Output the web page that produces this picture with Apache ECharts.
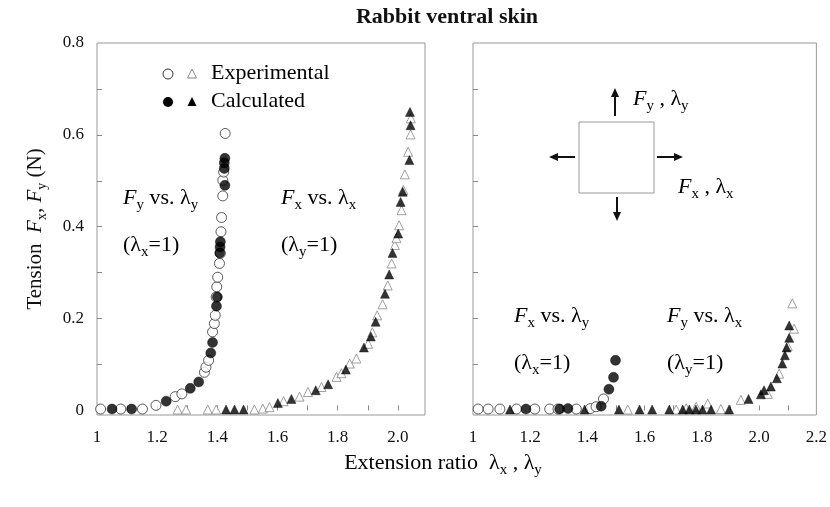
<!DOCTYPE html>
<html><head><meta charset="utf-8">
<script src="https://cdn.jsdelivr.net/npm/echarts@6/dist/echarts.min.js"></script>
<style>html,body{margin:0;padding:0;background:#fff}#c{width:830px;height:507px}</style>
</head><body><div id="c"></div>
<script>
// ---------- data (x = extension ratio, y = tension N) ----------
// Left panel: force along stretch direction
const leftExpCircles = [[1.012,0.003],[1.079,0.003],[1.151,0.003],[1.196,0.011],[1.26,0.03],[1.282,0.036],[1.357,0.083],[1.362,0.094],[1.371,0.109],[1.384,0.171],[1.39,0.189],[1.393,0.207],[1.396,0.247],[1.398,0.269],[1.401,0.29],[1.407,0.32],[1.41,0.342],[1.412,0.389],[1.414,0.42],[1.418,0.467],[1.418,0.501],[1.421,0.519],[1.426,0.603]];
const leftCalcCircles = [[1.05,0.003],[1.115,0.003],[1.23,0.02],[1.31,0.048],[1.338,0.062],[1.378,0.125],[1.384,0.148],[1.397,0.227],[1.40,0.247],[1.408,0.343],[1.409,0.356],[1.41,0.367],[1.425,0.49],[1.423,0.527],[1.423,0.539],[1.425,0.549]];
const leftExpTriangles = [[1.268,0.002],[1.296,0.002],[1.368,0.002],[1.396,0.002],[1.523,0.002],[1.551,0.004],[1.573,0.007],[1.62,0.02],[1.673,0.03],[1.701,0.04],[1.746,0.051],[1.796,0.073],[1.812,0.081],[1.84,0.102],[1.862,0.113],[1.901,0.145],[1.915,0.17],[1.931,0.207],[1.949,0.231],[1.966,0.272],[1.979,0.32],[1.99,0.36],[1.995,0.375],[2.004,0.403],[2.012,0.436],[2.018,0.48],[2.023,0.514],[2.034,0.563],[2.042,0.601],[2.043,0.636]];
const leftCalcTriangles = [[1.429,0.002],[1.457,0.002],[1.487,0.002],[1.601,0.016],[1.646,0.025],[1.727,0.044],[1.768,0.057],[1.827,0.089],[1.887,0.137],[1.91,0.161],[1.926,0.193],[1.957,0.254],[1.971,0.296],[1.982,0.343],[2.001,0.385],[2.009,0.454],[2.016,0.476],[2.038,0.545],[2.042,0.621],[2.04,0.65]];
// Right panel: force perpendicular to stretch direction
const rightExpCircles = [[1.018,0.003],[1.053,0.003],[1.094,0.003],[1.152,0.003],[1.216,0.003],[1.268,0.003],[1.297,0.003],[1.361,0.003],[1.41,0.004],[1.43,0.008],[1.456,0.025]];
const rightCalcCircles = [[1.185,0.003],[1.303,0.003],[1.332,0.004],[1.448,0.009],[1.475,0.046],[1.491,0.072],[1.498,0.109]];
const rightExpTriangles = [[1.541,0.002],[1.71,0.002],[1.745,0.005],[1.78,0.008],[1.82,0.015],[1.866,0.003],[1.936,0.023],[2.03,0.036],[2.07,0.08],[2.1,0.14],[2.122,0.178],[2.116,0.233]];
const rightCalcTriangles = [[1.129,0.002],[1.39,0.002],[1.51,0.002],[1.582,0.002],[1.626,0.002],[1.686,0.002],[1.733,0.002],[1.756,0.002],[1.779,0.002],[1.802,0.002],[1.832,0.002],[1.895,0.002],[1.963,0.025],[2.006,0.035],[2.017,0.044],[2.041,0.052],[2.062,0.07],[2.081,0.102],[2.09,0.12],[2.096,0.137],[2.105,0.158],[2.105,0.185]];
// tick values
const yTickLabels = [0, 0.2, 0.4, 0.6, 0.8];
const yTicks = [0.1, 0.2, 0.3, 0.4, 0.5, 0.6, 0.7];
const leftXLabels = [1, 1.2, 1.4, 1.6, 1.8, 2.0];
const leftXTicks = [1.1, 1.2, 1.3, 1.4, 1.5, 1.6, 1.7, 1.8, 1.9, 2.0];
const rightXLabels = [1, 1.2, 1.4, 1.6, 1.8, 2.0, 2.2];
const rightXTicks = [1.1, 1.2, 1.3, 1.4, 1.5, 1.6, 1.7, 1.8, 1.9, 2.0, 2.1];

const FONT = 'Liberation Serif';
const rich = {
  n: {fontFamily: FONT, fontSize: 22, color: '#111', lineHeight: 30, verticalAlign: 'middle'},
  i: {fontFamily: FONT, fontSize: 22, color: '#111', fontStyle: 'italic', lineHeight: 30, verticalAlign: 'middle'},
  s: {fontFamily: FONT, fontSize: 15, color: '#111', lineHeight: 30, verticalAlign: 'bottom'}
};
const fmtX = v => (Math.abs(v - 1) < 1e-9 ? '1' : v.toFixed(1));
const fmtY = v => (v === 0 ? '0' : v.toFixed(1));

function xAxisFor(grid, min, max, labels, ticks) {
  return {
    type: 'value', gridIndex: grid, min: min, max: max,
    axisLine: {show: false}, splitLine: {show: false},
    axisTick: {show: true, inside: true, length: 5, customValues: ticks, lineStyle: {color: '#888'}},
    axisLabel: {customValues: labels, formatter: fmtX, margin: 14, color: '#111', fontFamily: FONT, fontSize: 17}
  };
}
function yAxisFor(grid, showLabels) {
  const ax = {
    type: 'value', gridIndex: grid, min: -0.01, max: 0.8,
    axisLine: {show: false}, splitLine: {show: false},
    axisTick: {show: true, inside: true, length: 5, customValues: yTicks, lineStyle: {color: '#888'}},
    axisLabel: {show: showLabels, customValues: yTickLabels, formatter: fmtY, margin: 13, color: '#111', fontFamily: FONT, fontSize: 17}
  };
  if (showLabels) {
    ax.name = '{n|Tension  }{i|F}{s|x}{n|, }{i|F}{s|y}{n| (N)}';
    ax.nameLocation = 'middle';
    ax.nameRotate = 90;
    ax.nameGap = 48;
    ax.nameTextStyle = {rich: {
      n: {fontFamily: FONT, fontSize: 21, color: '#111', lineHeight: 28, verticalAlign: 'middle'},
      i: {fontFamily: FONT, fontSize: 21, color: '#111', fontStyle: 'italic', lineHeight: 28, verticalAlign: 'middle'},
      s: {fontFamily: FONT, fontSize: 14, color: '#111', lineHeight: 28, verticalAlign: 'bottom'}
    }};
  }
  return ax;
}
const openCircle = {color: '#fff', borderColor: '#333', borderWidth: 1};
const openTri = {color: '#fff', borderColor: '#888', borderWidth: 1};
const filled = {color: '#000', borderColor: '#000', borderWidth: 0.5};
function sc(name, data, grid, symbol, size, style, z) {
  return {name: name, type: 'scatter', xAxisIndex: grid, yAxisIndex: grid, data: data,
    symbol: symbol, symbolSize: size, itemStyle: style, z: z, silent: true, animation: false};
}

function txt(x, y, text, extra) {
  return Object.assign({type: 'text', x: x, y: y, style: {text: text, rich: rich, verticalAlign: 'middle', align: 'left'}}, extra || {});
}
function arrowLine(x1, y1, x2, y2) {
  return {type: 'line', shape: {x1: x1, y1: y1, x2: x2, y2: y2}, style: {stroke: '#111', lineWidth: 2}};
}
function head(points) {
  return {type: 'polygon', shape: {points: points}, style: {fill: '#111'}};
}

const chart = echarts.init(document.getElementById('c'), null, {renderer: 'canvas'});
chart.setOption({
  animation: false,
  backgroundColor: '#fff',
  title: {text: 'Rabbit ventral skin', left: 442, top: 1, textAlign: 'center',
    textStyle: {fontFamily: FONT, fontWeight: 'bold', fontSize: 22, color: '#111'}},
  grid: [
    {left: 97, top: 43, width: 328, height: 372, show: true, borderColor: '#999', borderWidth: 1, backgroundColor: 'transparent'},
    {left: 473, top: 43, width: 344, height: 372, show: true, borderColor: '#999', borderWidth: 1, backgroundColor: 'transparent'}
  ],
  xAxis: [xAxisFor(0, 1, 2.09, leftXLabels, leftXTicks), xAxisFor(1, 1, 2.2, rightXLabels, rightXTicks)],
  yAxis: [yAxisFor(0, true), yAxisFor(1, false)],
  series: [
    sc('Experimental Fy-λy', leftExpCircles, 0, 'circle', 10, openCircle, 2),
    sc('Experimental Fx-λx', leftExpTriangles, 0, 'triangle', 9, openTri, 2),
    sc('Calculated Fy-λy', leftCalcCircles, 0, 'circle', 10, filled, 3),
    sc('Calculated Fx-λx', leftCalcTriangles, 0, 'triangle', 9, filled, 3),
    sc('Experimental Fx-λy', rightExpCircles, 1, 'circle', 10, openCircle, 2),
    sc('Experimental Fy-λx', rightExpTriangles, 1, 'triangle', 9, openTri, 2),
    sc('Calculated Fx-λy', rightCalcCircles, 1, 'circle', 10, filled, 3),
    sc('Calculated Fy-λx', rightCalcTriangles, 1, 'triangle', 9, filled, 3)
  ],
  graphic: [
    // legend
    {type: 'circle', shape: {cx: 168, cy: 74, r: 5}, style: {fill: '#fff', stroke: '#333', lineWidth: 1}},
    {type: 'polygon', shape: {points: [[192, 69], [196.5, 78], [187.5, 78]]}, style: {fill: '#fff', stroke: '#888', lineWidth: 1}},
    {type: 'circle', shape: {cx: 168, cy: 102, r: 5}, style: {fill: '#000'}},
    {type: 'polygon', shape: {points: [[192, 97], [196.5, 106], [187.5, 106]]}, style: {fill: '#000'}},
    txt(211, 73, '{n|Experimental}'),
    txt(211, 101, '{n|Calculated}'),
    // left annotations
    txt(123, 198, '{i|F}{s|y}{n| vs. λ}{s|y}'),
    txt(123, 245, '{n|(λ}{s|x}{n|=1)}'),
    txt(281, 198, '{i|F}{s|x}{n| vs. λ}{s|x}'),
    txt(281, 245, '{n|(λ}{s|y}{n|=1)}'),
    // right annotations
    txt(514, 316, '{i|F}{s|x}{n| vs. λ}{s|y}'),
    txt(514, 363, '{n|(λ}{s|x}{n|=1)}'),
    txt(667, 316, '{i|F}{s|y}{n| vs. λ}{s|x}'),
    txt(667, 363, '{n|(λ}{s|y}{n|=1)}'),
    txt(633, 99, '{i|F}{s|y}{n| , λ}{s|y}'),
    txt(678, 187, '{i|F}{s|x}{n| , λ}{s|x}'),
    // diagram
    {type: 'rect', shape: {x: 579, y: 122, width: 75, height: 71}, style: {fill: 'none', stroke: '#999', lineWidth: 1}},
    arrowLine(615, 116, 615, 95), head([[615, 88], [611, 97], [619, 97]]),
    arrowLine(617, 197, 617, 213), head([[617, 221], [613, 212], [621, 212]]),
    arrowLine(575, 157, 557, 157), head([[549, 157], [558, 153], [558, 161]]),
    arrowLine(657, 157, 675, 157), head([[683, 157], [674, 153], [674, 161]]),
    // x axis name
    {type: 'text', x: 443, y: 463, style: {text: '{n|Extension ratio  λ}{s|x}{n| , λ}{s|y}', rich: rich, align: 'center', verticalAlign: 'middle'}}
  ]
});
</script>
</body></html>
